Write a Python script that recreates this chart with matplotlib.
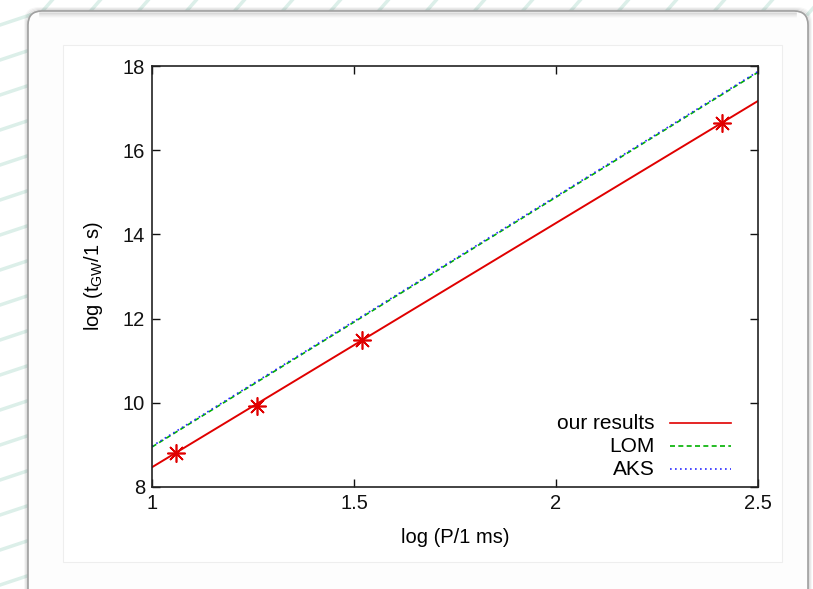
import matplotlib.pyplot as plt
import numpy as np
from matplotlib.lines import Line2D
from matplotlib.patches import FancyBboxPatch, Rectangle
from matplotlib.ticker import FixedLocator, FormatStrFormatter
from matplotlib.transforms import Affine2D

plt.rcParams["font.family"] = ["Liberation Sans", "DejaVu Sans"]

# values
log_p = [1.06, 1.26, 1.52, 2.41]
log_t = [8.80, 9.93, 11.50, 16.65]

fit_x = [1.0, 2.5]
ours_y = [8.47, 17.17]
lom_y = [8.95, 17.85]
aks_y = [8.97, 17.87]

x_ticks = [1, 1.5, 2, 2.5]
y_ticks = [8, 10, 12, 14, 16, 18]

W, H = 813, 589
fig = plt.figure(figsize=(W / 100, H / 100), dpi=100)
fig.patch.set_facecolor("white")

# pixel coordinates, origin top-left
PX = Affine2D().scale(0.01, -0.01).translate(0, H / 100) + fig.dpi_scale_trans

# faint teal swirl lines of the slide background
teal = "#dcefe9"
for y0 in np.arange(20, 600, 35):
    fig.add_artist(Line2D([0, 30], [y0 + 5, y0 - 5], transform=PX, color=teal, lw=2.5, zorder=0))
for x0 in np.arange(40, 830, 48):
    fig.add_artist(Line2D([x0, x0 + 14], [14, -2], transform=PX, color=teal, lw=2.5, zorder=0))

# slide panel with soft shadow
for k, a in enumerate([0.10, 0.07, 0.05, 0.03]):
    fig.add_artist(FancyBboxPatch((28 - k, 11 - k), 780 + 2 * k, 640, transform=PX,
                                  boxstyle="round,pad=0,rounding_size=14",
                                  facecolor="none", edgecolor="black", alpha=a, lw=1.5, zorder=1))
fig.add_artist(FancyBboxPatch((28, 11), 780, 640, transform=PX,
                              boxstyle="round,pad=0,rounding_size=14",
                              facecolor="#fdfdfd", edgecolor="#a0a0a0", lw=1.2, zorder=2))
for k, a in enumerate([0.10, 0.07, 0.05, 0.03, 0.02]):
    fig.add_artist(Line2D([40, 796], [13 + k, 13 + k], transform=PX, color="black", alpha=a, lw=1.2, zorder=3))
fig.add_artist(Rectangle((63, 45), 719, 517, transform=PX,
                         facecolor="white", edgecolor="#eeeeee", lw=0.8, zorder=3))

ax = fig.add_axes([152 / W, 1 - 487 / H, (758 - 152) / W, (487 - 66) / H], zorder=5)
ax.set_facecolor("white")

ax.plot(fit_x, lom_y, color="#00b000", lw=1.2, dashes=(3, 2))
ax.plot(fit_x, aks_y, color="#2a2aff", lw=1.2, dashes=(1, 2))
ax.plot(fit_x, ours_y, color="#e00000", lw=1.4)
ax.plot(log_p, log_t, ls="none", marker=(8, 2, 0), ms=13, mew=1.2, color="#e00000")

ax.set_xlim(1, 2.5)
ax.set_ylim(8, 18)
ax.xaxis.set_major_locator(FixedLocator(x_ticks))
ax.yaxis.set_major_locator(FixedLocator(y_ticks))
ax.xaxis.set_major_formatter(FormatStrFormatter("%g"))
ax.tick_params(direction="in", top=True, right=True, length=6, width=1,
               labelsize=14.5, pad=5, colors="#111111")
for s in ax.spines.values():
    s.set_linewidth(1.2)
    s.set_color("#222222")

ax.set_xlabel("log (P/1 ms)", fontsize=14.5, labelpad=11)
ax.set_ylabel(r"log (t$_{\mathregular{GW}}$/1 s)", fontsize=14.5, labelpad=13)

# gnuplot style key: right aligned text, sample to the right
key = [("our results", "#e00000", None), ("LOM", "#00b000", (3, 2)), ("AKS", "#2a2aff", (1, 2))]
for i, (name, c, d) in enumerate(key):
    yk = 0.152 - i * 0.055
    ax.text(0.830, yk, name, transform=ax.transAxes, ha="right", va="center", fontsize=15)
    ln = Line2D([0.855, 0.955], [yk, yk], transform=ax.transAxes, color=c, lw=1.2)
    if d:
        ln.set_dashes(d)
    ax.add_line(ln)

fig.savefig("out.png", dpi=100)
